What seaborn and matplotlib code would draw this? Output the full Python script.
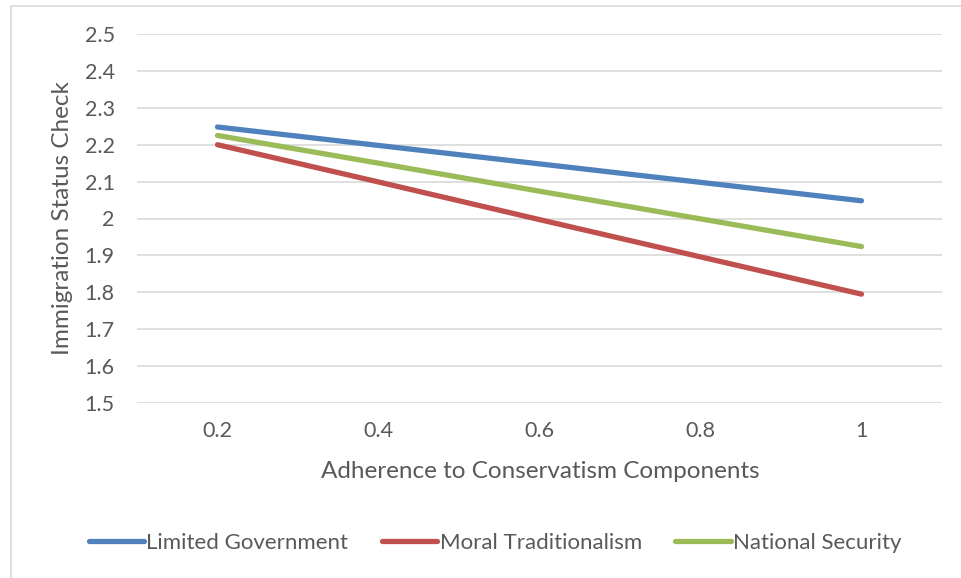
import numpy as np
import pandas as pd
import matplotlib
matplotlib.use("Agg")
import matplotlib.pyplot as plt
import seaborn as sns
from matplotlib.patches import Rectangle

# Adherence levels on the x axis
adherence = [0.2, 0.4, 0.6, 0.8, 1.0]
x_tick_labels = ["0.2", "0.4", "0.6", "0.8", "1"]

# Predicted immigration status check score per conservatism component
limited_government = [2.248, 2.198, 2.148, 2.098, 2.048]
moral_traditionalism = [2.200, 2.099, 1.997, 1.896, 1.795]
national_security = [2.225, 2.150, 2.074, 1.999, 1.924]

series_names = ["Limited Government", "Moral Traditionalism", "National Security"]
colors = ["#4F81BD", "#C0504D", "#9BBB59"]

y_ticks = [1.5, 1.6, 1.7, 1.8, 1.9, 2.0, 2.1, 2.2, 2.3, 2.4, 2.5]
y_tick_labels = ["1.5", "1.6", "1.7", "1.8", "1.9", "2", "2.1", "2.2", "2.3", "2.4", "2.5"]

df = pd.DataFrame({
    "Adherence": adherence * 3,
    "Score": limited_government + moral_traditionalism + national_security,
    "Component": [n for n in series_names for _ in adherence],
})

sns.set_theme(style="white")
plt.rcParams["font.family"] = ["Lato", "DejaVu Sans"]
text_color = "#595959"

W, H = 961, 578
fig = plt.figure(figsize=(W / 100, H / 100), dpi=100)
fig.patch.set_facecolor("white")

# chart area border
fig.add_artist(Rectangle((11 / W, -0.05), 1.1, (1 - 6 / H) + 0.05,
                         transform=fig.transFigure, fill=False,
                         edgecolor="#D9D9D9", linewidth=1.2))

ax = fig.add_axes([137 / W, 1 - 403 / H, (942 - 137) / W, 369 / H])

sns.lineplot(data=df, x="Adherence", y="Score", hue="Component",
             hue_order=series_names, palette=colors, linewidth=3.8,
             solid_capstyle="round", legend=False, ax=ax)

ax.set_xlim(0.1, 1.1)
ax.set_ylim(1.5, 2.5)
ax.set_yticks(y_ticks)
ax.set_yticklabels(y_tick_labels)
ax.set_xticks(adherence)
ax.set_xticklabels(x_tick_labels)
ax.grid(axis="y", color="#D9D9D9", linewidth=1.2)
ax.grid(axis="x", visible=False)
ax.set_axisbelow(True)
for s in ax.spines.values():
    s.set_visible(False)
ax.tick_params(axis="both", length=0, labelsize=15.5, labelcolor=text_color)
ax.tick_params(axis="y", pad=16)
ax.tick_params(axis="x", pad=13)
ax.set_xlabel("")
ax.set_ylabel("")

fig.text(540 / W, 1 - 472 / H, "Adherence to Conservatism Components",
         fontsize=17.5, color=text_color, ha="center", va="center")
fig.text(63 / W, 1 - 218 / H, "Immigration Status Check", rotation=90,
         fontsize=17.5, color=text_color, ha="center", va="center")

handles = [plt.Line2D([0], [0], color=c, linewidth=3.8, solid_capstyle="round")
           for c in colors]
fig.legend(handles, series_names, loc="center", ncol=3,
           bbox_to_anchor=(495 / W, 1 - 543 / H), frameon=False,
           fontsize=16, labelcolor=text_color, handlelength=2.5,
           handletextpad=0.1, columnspacing=1.5)

fig.savefig("out.png", dpi=100, facecolor="white")
